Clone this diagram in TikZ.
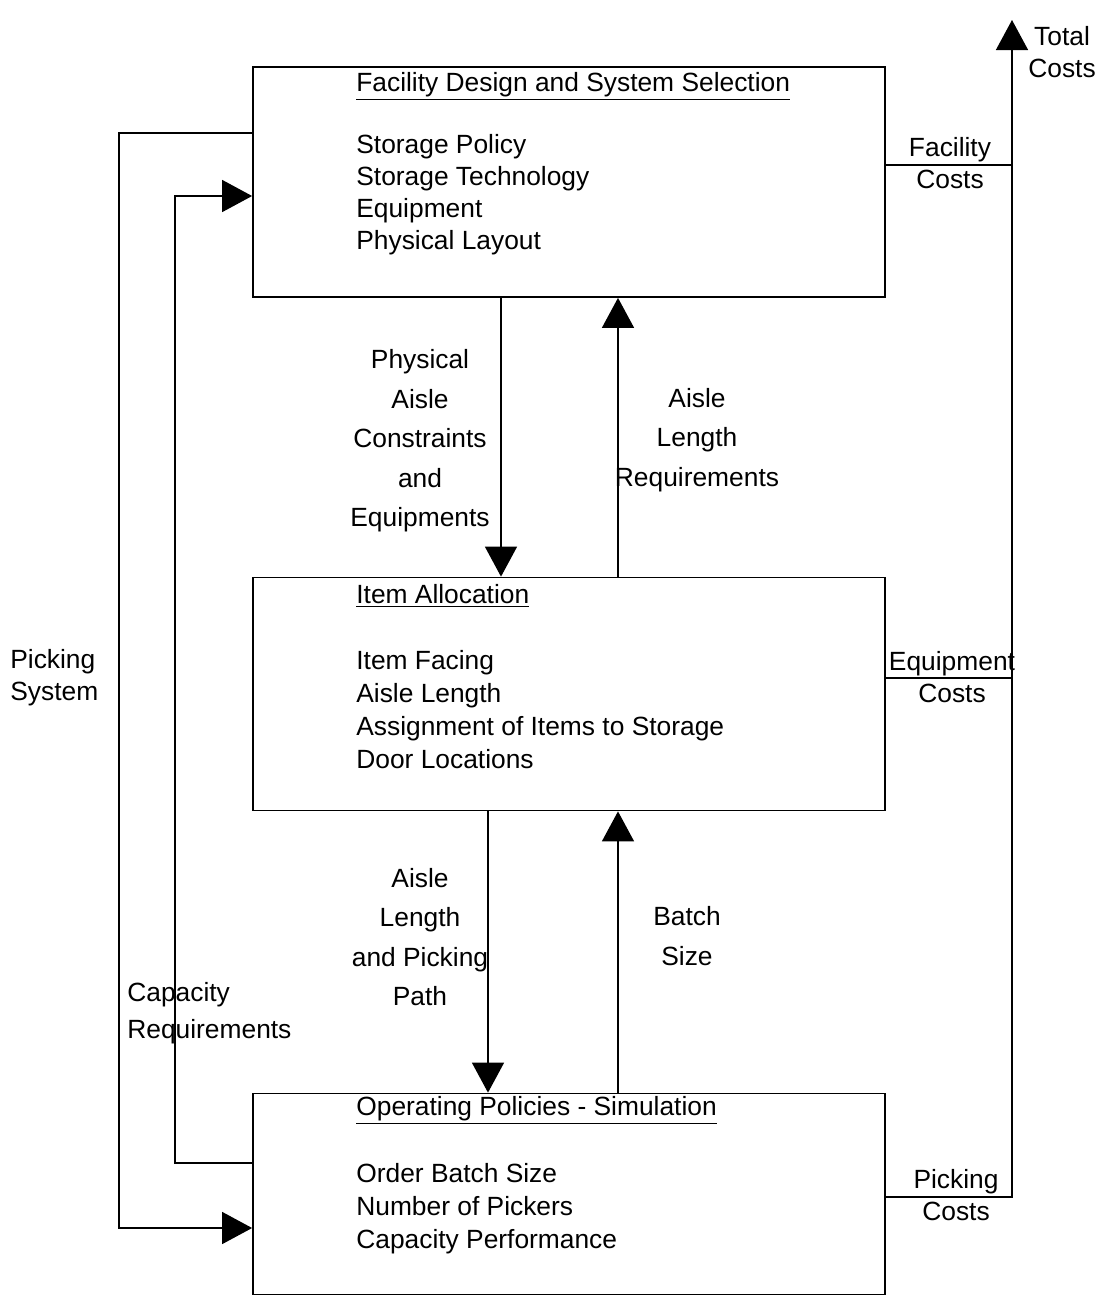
\documentclass[tikz,border=0pt]{standalone}
\usepackage{fontspec}
\setmainfont{Liberation Sans}
\usetikzlibrary{arrows.meta,positioning}
\begin{document}
\begin{tikzpicture}[x=0.2mm,y=-0.2mm,
    block/.style ={draw, line width=1pt, minimum width=126.4mm, inner sep=0pt},
    heading/.style ={anchor=west, inner sep=0pt, font=\fontsize{15}{18}\selectfont},
    items/.style ={anchor=west, align=left, inner sep=0pt, font=\fontsize{15}{18.8}\selectfont},
    lbl/.style ={align=center, inner sep=0pt, font=\fontsize{15}{22.5}\selectfont},
    link/.style ={line width=0.8pt},
    flow/.style ={link, -{Triangle[length=6mm,width=6.4mm]}}]
   \useasboundingbox (0,0) rectangle (1099,1310);

   % the three stages
   \node[block, minimum height=46mm] (fac) at (569,182) {};
   \node[block, minimum height=46.6mm] (alloc) at (569,694) {};
   \node[block, minimum height=40.2mm] (ops) at (569,1194) {};

   \node[heading] (facT) at (356,86) {\underline{Facility Design and System Selection}};
   \node[items, font=\fontsize{15}{18.2}\selectfont] (facL) at (356,195)
      {Storage Policy\\Storage Technology\\Equipment\\Physical Layout};
   \node[heading] (allocT) at (356,596) {\underline{Item Allocation}};
   \node[items] (allocL) at (356,710)
      {Item Facing\\Aisle Length\\Assignment of Items to Storage\\Door Locations};
   \node[heading] (opsT) at (356,1110) {\underline{Operating Policies - Simulation}};
   \node[items] (opsL) at (356,1209)
      {Order Batch Size\\Number of Pickers\\Capacity Performance};

   % flows between stages
   \draw[flow] ([xshift=-13.6mm]fac.south) -- ([xshift=-13.6mm]alloc.north);
   \draw[flow] ([xshift=9.8mm]alloc.north) -- ([xshift=9.8mm]fac.south);
   \draw[flow] ([xshift=-16.2mm]alloc.south) -- ([xshift=-16.2mm]ops.north);
   \draw[flow] ([xshift=9.8mm]ops.north) -- ([xshift=9.8mm]alloc.south);

   \node[lbl] (aisleC) at (420,441) {Physical\\Aisle\\Constraints\\and\\Equipments};
   \node[lbl] (aisleR) at (697,440) {Aisle\\Length\\Requirements};
   \node[lbl] (aisleP) at (420,937) {Aisle\\Length\\and Picking\\Path};
   \node[lbl] (batch) at (687,936) {Batch\\Size};

   % feedback on the left
   \coordinate (psysA) at (119,133);
   \coordinate (psysB) at (119,1228);
   \coordinate (capA) at (175,1163);
   \coordinate (capB) at (175,196);
   \draw[flow] (fac.west |- psysA) -- (psysA) -- (psysB) -- (ops.west |- psysB);
   \draw[flow] (ops.west |- capA) -- (capA) -- (capB) -- (fac.west |- capB);

   \node[lbl, anchor=west, align=left, font=\fontsize{15}{18.2}\selectfont] (psys) at (10,678) {Picking\\System};
   \node[lbl, anchor=west, align=left, font=\fontsize{15}{21}\selectfont] (capreq) at (127,1013) {Capacity\\Requirements};

   % costs on the right
   \coordinate (fcost) at (1012,165);
   \coordinate (ecost) at (1012,678);
   \coordinate (pcost) at (1012,1197);
   \coordinate (total) at (1012,20);
   \draw[link] (fac.east |- fcost) -- (fcost);
   \draw[link] (alloc.east |- ecost) -- (ecost);
   \draw[flow] (ops.east |- pcost) -- (pcost) -- (total);

   \node[lbl, font=\fontsize{15}{18.2}\selectfont] (fcostL) at (950,163) {Facility\\Costs};
   \node[lbl, font=\fontsize{15}{18.2}\selectfont] (ecostL) at (952,677) {Equipment\\Costs};
   \node[lbl, font=\fontsize{15}{18.2}\selectfont] (pcostL) at (956,1195) {Picking\\Costs};
   \node[lbl, anchor=west, font=\fontsize{15}{18.2}\selectfont] (totalL) at (1028,52) {Total\\Costs};
\end{tikzpicture}
\end{document}
